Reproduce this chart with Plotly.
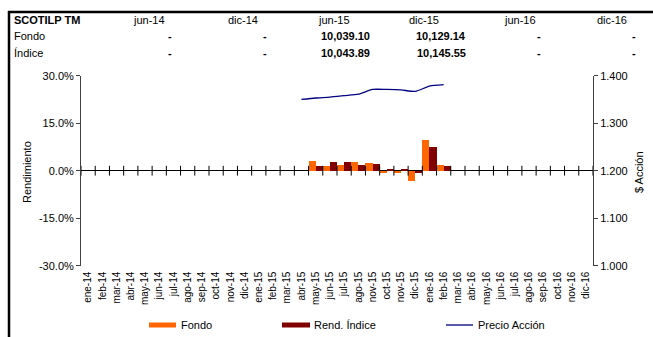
import plotly.graph_objects as go

W, H = 653, 337

# Monthly categories (the source sheet labels Sep-15 as "nov-15")
meses = ["ene-14", "feb-14", "mar-14", "abr-14", "may-14", "jun-14", "jul-14", "ago-14",
         "sep-14", "oct-14", "nov-14", "dic-14", "ene-15", "feb-15", "mar-15", "abr-15",
         "may-15", "jun-15", "jul-15", "ago-15", "nov-15", "oct-15", "nov-15", "dic-15",
         "ene-16", "feb-16", "mar-16", "abr-16", "may-16", "jun-16", "jul-16", "ago-16",
         "sep-16", "oct-16", "nov-16", "dic-16"]

# Monthly returns (%) – fund and index
fondo = [None] * 16 + [3.05, 1.5, 1.8, 2.7, 2.4, -0.4, -0.4, -3.2, 9.8, 1.8] + [None] * 10
indice = [None] * 16 + [1.5, 3.0, 3.0, 2.0, 2.1, 0.4, 0.5, -0.7, 7.6, 1.6] + [None] * 10

# Share price
precio = [None] * 15 + [1.350, 1.353, 1.355, 1.358, 1.361, 1.371, 1.371, 1.370,
                        1.367, 1.378, 1.381] + [None] * 10

# Summary table
tabla_fechas = ["jun-14", "dic-14", "jun-15", "dic-15", "jun-16", "dic-16"]
tabla_fondo = ["-", "-", "10,039.10", "10,129.14", "-", "-"]
tabla_indice = ["-", "-", "10,043.89", "10,145.55", "-", "-"]

x = list(range(len(meses)))

FONT = "Liberation Sans, Arial, sans-serif"
NARANJA = "#FF6600"
GUINDA = "#800000"
AZUL = "#000080"


def px_x(v):
    return v / W


def px_y(v):
    return 1 - v / H


fig = go.Figure()
fig.add_trace(go.Bar(x=x, y=fondo, name="Fondo", marker=dict(color=NARANJA, line_width=0)))
fig.add_trace(go.Bar(x=x, y=indice, name="Rend. Índice", marker=dict(color=GUINDA, line_width=0)))
fig.add_trace(go.Scatter(x=x, y=precio, name="Precio Acción", yaxis="y2", mode="lines",
                         line=dict(color=AZUL, width=1.3, shape="spline", smoothing=0.6),
                         connectgaps=False))
# Category tick marks crossing the zero line
bordes = [i - 0.5 for i in range(len(meses) + 1)]
fig.add_trace(go.Scatter(x=bordes, y=[0] * len(bordes), mode="markers", hoverinfo="skip",
                         marker=dict(symbol="line-ns", size=7, line=dict(color="black", width=1))))

x0, x1 = 81, 593
y_top, y_bot = 75.7, 265.7

fig.update_layout(
    width=W, height=H,
    margin=dict(l=0, r=0, t=0, b=0),
    paper_bgcolor="white", plot_bgcolor="white",
    showlegend=False,
    barmode="group", bargap=0, bargroupgap=0,
    font=dict(family=FONT, size=11, color="black"),
    xaxis=dict(domain=[px_x(x0), px_x(x1)], range=[-0.5, len(meses) - 0.5],
               tickmode="array", tickvals=x, ticktext=meses, tickangle=-90,
               tickfont=dict(size=10), showgrid=False, zeroline=False, showline=False,
               ticks="", ticklabelstandoff=3, automargin=False),
    yaxis=dict(domain=[px_y(y_bot), px_y(y_top)], range=[-30, 30], tickvals=[-30, -15, 0, 15, 30],
               ticktext=["-30.0%", "-15.0%", "0.0%", "15.0%", "30.0%"],
               showgrid=False, zeroline=True, zerolinecolor="black", zerolinewidth=1,
               showline=True, linecolor="#404040", linewidth=1, ticks="outside", ticklen=4,
               tickcolor="#404040", tickfont=dict(size=11), automargin=False),
    yaxis2=dict(overlaying="y", side="right", anchor="x", range=[1.0, 1.4],
                tickvals=[1.0, 1.1, 1.2, 1.3, 1.4], tickformat=".3f",
                showgrid=False, zeroline=False, showline=True, linecolor="#404040", linewidth=1,
                ticks="outside", ticklen=4, tickcolor="#404040", tickfont=dict(size=11),
                automargin=False),
)

ann = []
shapes = []


def texto(txt, px, py, xanchor="center", angle=0):
    ann.append(dict(text=txt, x=px_x(px), y=px_y(py), xref="paper", yref="paper",
                    xanchor=xanchor, yanchor="middle", textangle=angle, showarrow=False,
                    font=dict(size=11)))


# Axis titles
texto("Rendimiento", 27, 172, angle=-90)
texto("$ Acción", 639, 172, angle=-90)

# Summary table
row_y = [20, 36, 53]
texto("<b>SCOTILP TM</b>", 12, row_y[0], "left")
texto("Fondo", 12, row_y[1], "left")
texto("Índice", 12, row_y[2], "left")
col_centers = [149, 243, 334, 424, 520, 612]
col_right = [174, 269, 372, 468, 543, 638]
for fecha, c in zip(tabla_fechas, col_centers):
    texto(fecha, c, row_y[0])
for vals, ry in ((tabla_fondo, row_y[1]), (tabla_indice, row_y[2])):
    for v, r in zip(vals, col_right):
        texto(f"<b>{v}</b>", r, ry, "right")

# Frame lines
shapes.append(dict(type="line", xref="paper", yref="paper", x0=px_x(8), x1=1,
                   y0=px_y(12), y1=px_y(12), line=dict(color="black", width=2.5)))
shapes.append(dict(type="line", xref="paper", yref="paper", x0=px_x(9), x1=px_x(9),
                   y0=px_y(11), y1=0, line=dict(color="black", width=2.5)))

# Legend
ly = 325
shapes.append(dict(type="rect", xref="paper", yref="paper", x0=px_x(149), x1=px_x(176),
                   y0=px_y(327.5), y1=px_y(322.5), fillcolor=NARANJA, line_width=0))
shapes.append(dict(type="rect", xref="paper", yref="paper", x0=px_x(282), x1=px_x(310),
                   y0=px_y(327.5), y1=px_y(322.5), fillcolor=GUINDA, line_width=0))
shapes.append(dict(type="line", xref="paper", yref="paper", x0=px_x(446), x1=px_x(473),
                   y0=px_y(ly), y1=px_y(ly), line=dict(color=AZUL, width=1.3)))
for txt, lx in (("Fondo", 179), ("Rend. Índice", 312), ("Precio Acción", 476)):
    texto(txt, lx, ly, "left")

fig.update_layout(annotations=ann, shapes=shapes)
fig.write_html("out.html")
